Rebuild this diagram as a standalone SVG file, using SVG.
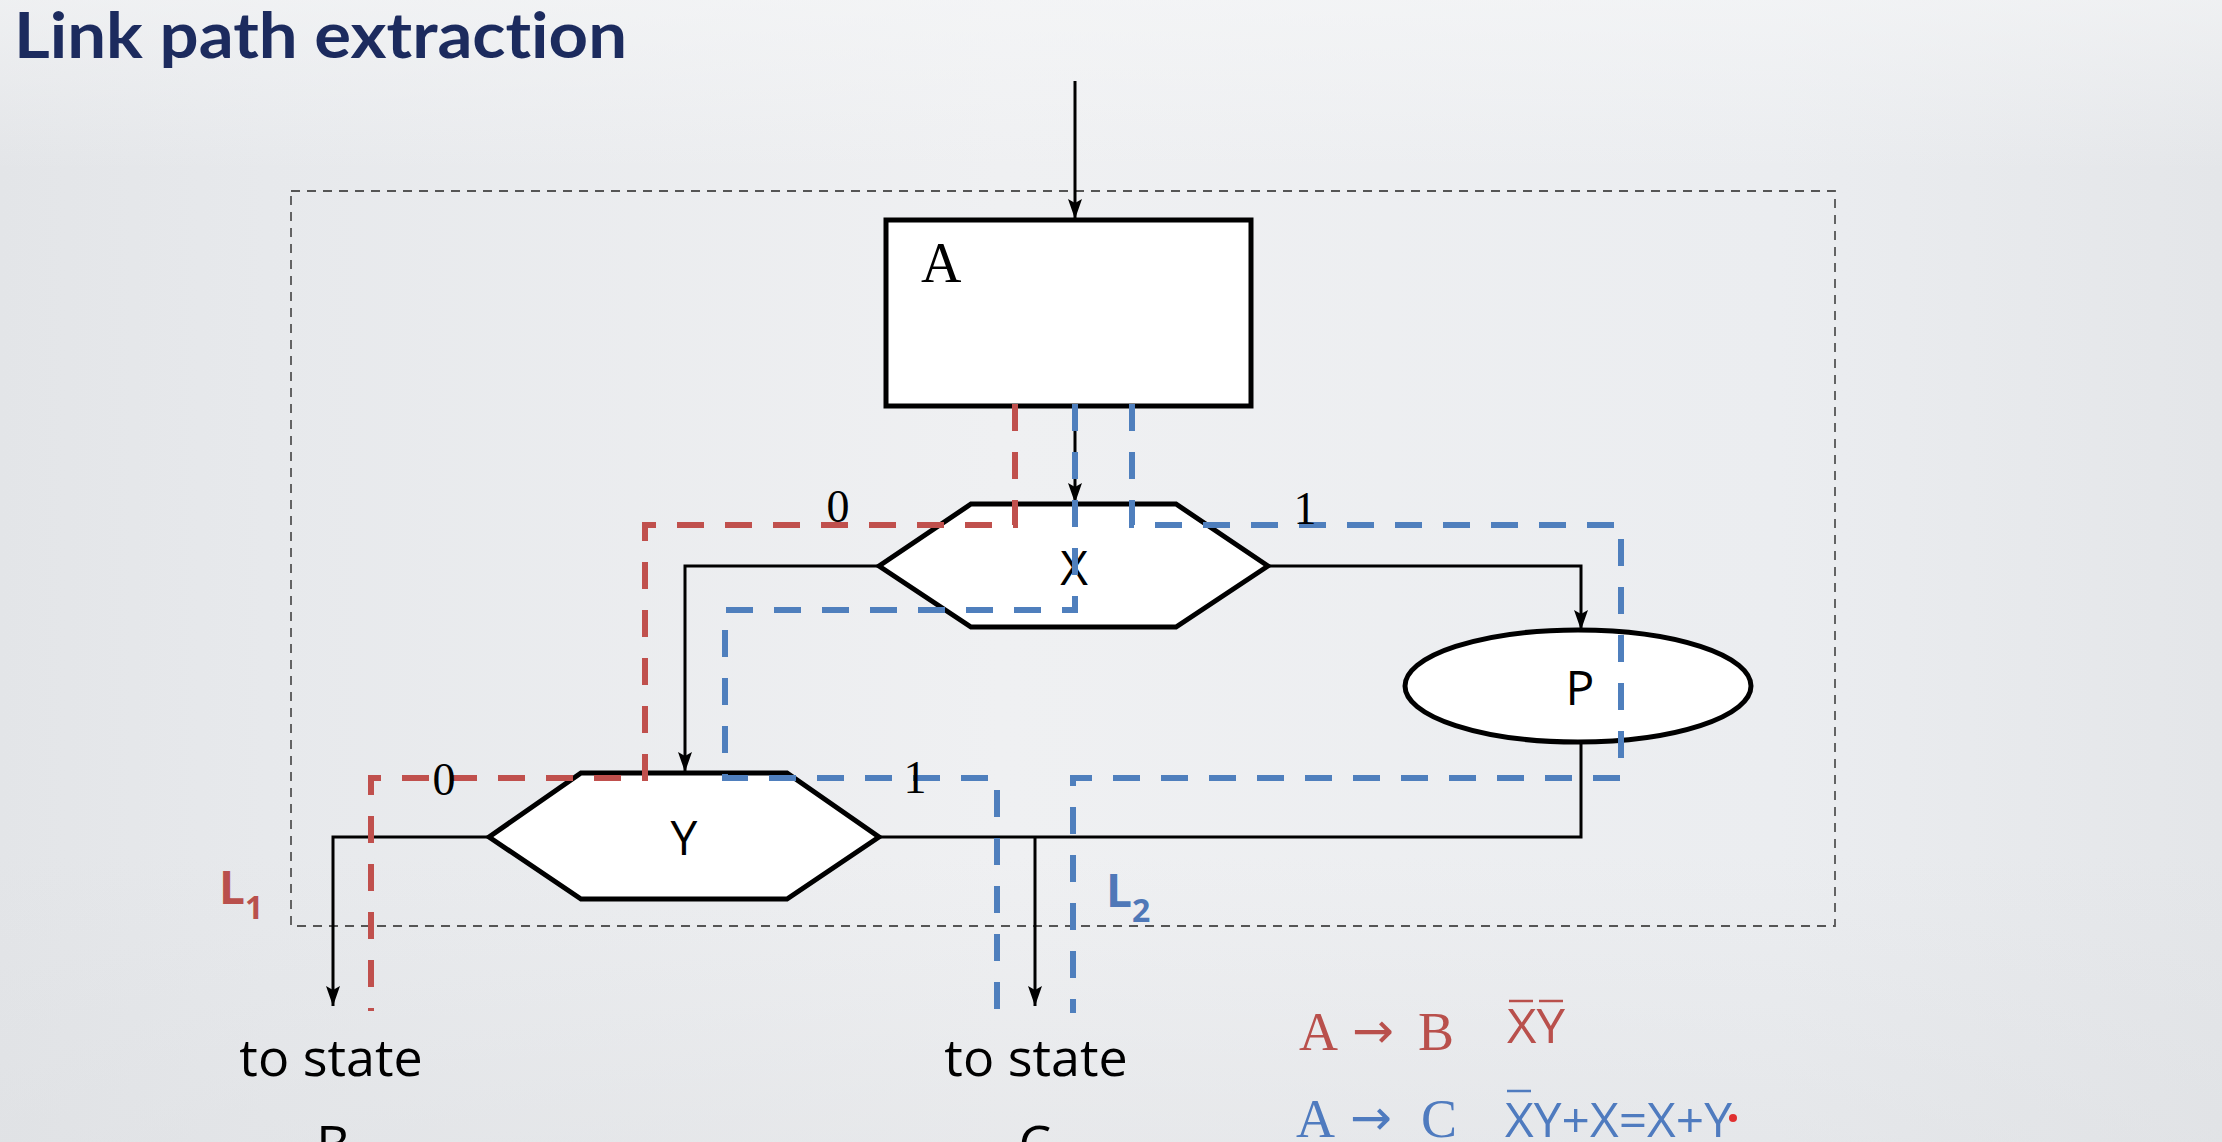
<svg xmlns="http://www.w3.org/2000/svg" width="2222" height="1142" viewBox="0 0 2222 1142">
<defs>
<style>
.frame{fill:none;stroke:#555;stroke-width:1.8;stroke-dasharray:9 7}
.node{fill:#fff;stroke:#000;stroke-width:5}
.conn{fill:none;stroke:#000;stroke-width:3}
.red{fill:none;stroke:#c0504d;stroke-width:6;stroke-dasharray:27 21}
.blue{fill:none;stroke:#4f7fbd;stroke-width:6;stroke-dasharray:27 21}
.lbl{font-family:"Open Sans","Liberation Sans",sans-serif;font-size:48px;fill:#000;text-anchor:middle}
.num{font-family:"Liberation Serif","DejaVu Serif",serif;font-size:46px;fill:#000;text-anchor:middle}
.state{font-family:"Open Sans","Liberation Sans",sans-serif;font-size:52px;fill:#000;text-anchor:middle}
.serif{font-family:"Liberation Serif","DejaVu Serif",serif;font-size:54px}
.arrow{font-family:"DejaVu Sans",sans-serif;font-size:50px}
.sans{font-family:"Open Sans","Liberation Sans",sans-serif;font-size:48px}
.Lbl{font-family:"Open Sans","Liberation Sans",sans-serif;font-weight:700}
</style>
<linearGradient id="bgH" x1="0" y1="0" x2="1" y2="0">
<stop offset="0" stop-color="#e3e5e8"/>
<stop offset="0.12" stop-color="#e7e9ec"/>
<stop offset="0.45" stop-color="#eff0f2"/>
<stop offset="0.8" stop-color="#ebedf0"/>
<stop offset="1" stop-color="#e4e6e9"/>
</linearGradient>
<linearGradient id="bgV" x1="0" y1="0" x2="0" y2="1">
<stop offset="0" stop-color="#f6f7f8" stop-opacity="0.6"/>
<stop offset="0.15" stop-color="#f6f7f8" stop-opacity="0"/>
<stop offset="0.75" stop-color="#dcdee1" stop-opacity="0"/>
<stop offset="1" stop-color="#dcdee1" stop-opacity="0.4"/>
</linearGradient>
<marker id="arr" viewBox="0 0 20 14" markerWidth="20" markerHeight="14" refX="20" refY="7" orient="auto" markerUnits="userSpaceOnUse">
<path d="M0,0 L20,7 L0,14 L4,7 z" fill="#000"/>
</marker>
</defs>
<g id="background">
<rect x="0" y="0" width="2222" height="1142" fill="url(#bgH)"/>
<rect x="0" y="0" width="2222" height="1142" fill="url(#bgV)"/>
</g>
<text id="title" x="14" y="58" font-family="Lato,'Open Sans',sans-serif" font-weight="700" font-size="64" fill="#1c2b5e" textLength="613" lengthAdjust="spacingAndGlyphs" style="font-variant-ligatures:none">Link path extraction</text>
<rect id="frame" class="frame" x="291" y="191" width="1544" height="735"/>
<g id="node-A">
<rect class="node" x="886" y="220" width="365" height="186"/>
<text x="921" y="282" font-family="'Liberation Serif',serif" font-size="56" fill="#000">A</text>
</g>
<g id="node-X">
<polygon class="node" points="879,566 971,504 1176,504 1268,566 1176,627 971,627"/>
<text class="lbl" x="1074" y="585">X</text>
</g>
<g id="node-Y">
<polygon class="node" points="489,837 581,773 787,773 879,837 787,899 581,899"/>
<text class="lbl" x="684" y="855">Y</text>
</g>
<g id="node-P">
<ellipse class="node" cx="1578" cy="686" rx="173" ry="56"/>
<text class="lbl" x="1580" y="705">P</text>
</g>
<g id="connectors">
<line class="conn" x1="1075" y1="81" x2="1075" y2="219" marker-end="url(#arr)"/>
<line class="conn" x1="1075" y1="406" x2="1075" y2="503" marker-end="url(#arr)"/>
<polyline class="conn" points="879,566 685,566 685,772" marker-end="url(#arr)"/>
<polyline class="conn" points="1268,566 1581,566 1581,630" marker-end="url(#arr)"/>
<polyline class="conn" points="489,837 333,837 333,1006" marker-end="url(#arr)"/>
<polyline class="conn" points="1581,742 1581,837 879,837"/>
<line class="conn" x1="1035" y1="837" x2="1035" y2="1006" marker-end="url(#arr)"/>
</g>
<g id="paths">
<path class="red" d="M1015,404 V525 H645 V778 H371 V1011"/>
<path class="blue" d="M1075,404 V610 H725 V778 H997 V1013"/>
<path class="blue" d="M1132,404 V525 H1621 V778 H1073 V1013"/>
</g>
<g id="branch-labels">
<text class="num" x="838" y="522">0</text>
<text class="num" x="1305" y="524">1</text>
<text class="num" x="444" y="795">0</text>
<text class="num" x="915" y="793">1</text>
</g>
<g id="path-labels">
<text class="Lbl" x="219" y="904" font-size="46" fill="#b9504c">L<tspan font-size="32" dy="15">1</tspan></text>
<text class="Lbl" x="1106" y="907" font-size="46" fill="#4f78b8">L<tspan font-size="32" dy="15">2</tspan></text>
</g>
<g id="targets">
<text class="state" x="331" y="1076">to state</text>
<text class="state" x="333" y="1163">B</text>
<text class="state" x="1036" y="1076">to state</text>
<text class="state" x="1035" y="1163">C</text>
</g>
<g id="formulas">
<text class="serif" y="1050" fill="#b9504c"><tspan x="1299">A</tspan><tspan class="arrow" x="1352" dy="-2">→</tspan><tspan x="1418" dy="2">B</tspan></text>
<text class="sans" x="1507" y="1043" fill="#b9504c" textLength="58" lengthAdjust="spacingAndGlyphs">XY</text>
<line x1="1509" y1="1001" x2="1533" y2="1001" stroke="#b9504c" stroke-width="2.5"/>
<line x1="1539" y1="1001" x2="1563" y2="1001" stroke="#b9504c" stroke-width="2.5"/>
<text class="serif" y="1137" fill="#4f7bbf"><tspan x="1296">A</tspan><tspan class="arrow" x="1350" dy="-2">→</tspan><tspan x="1421" dy="2">C</tspan></text>
<text class="sans" x="1505" y="1137" fill="#4f7bbf" textLength="227" lengthAdjust="spacingAndGlyphs">XY+X=X+Y</text>
<line x1="1507" y1="1091" x2="1531" y2="1091" stroke="#4f7bbf" stroke-width="2.5"/>
<circle cx="1733" cy="1118" r="4" fill="#e03030"/>
</g>
</svg>
